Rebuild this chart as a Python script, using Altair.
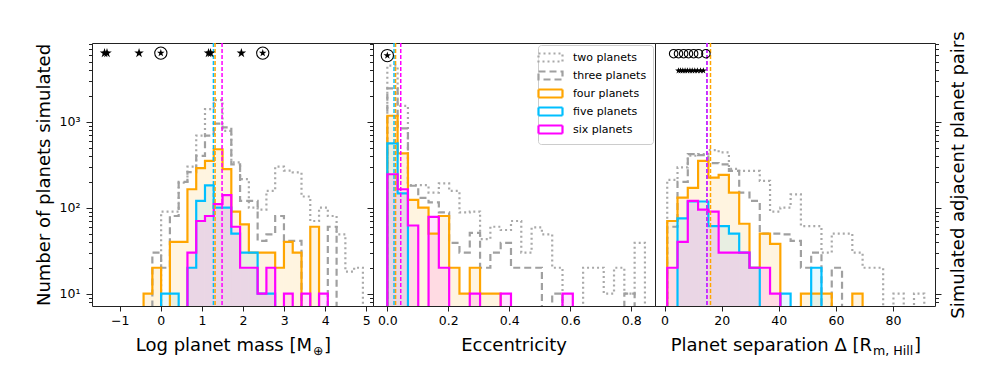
import altair as alt
import pandas as pd

FONT = "DejaVu Sans"

# ---------------- series definitions ----------------
SERIES = ["two planets", "three planets", "four planets", "five planets", "six planets"]
SERIES_COLORS = ["#a9a9a9", "#a0a0a0", "#ffa500", "#00bfff", "#ff00ff"]
SERIES_DASHES = [[2, 3], [7, 4], [1, 0], [1, 0], [1, 0]]
SERIES_WIDTHS = [2.2, 2.2, 3.2, 3.2, 3.2]
HATCH_OPACITY = {"four planets": 0.12, "five planets": 0.09, "six planets": 0.1}

# ---------------- panel 1: log planet mass ----------------
MASS_BIN_START = -0.42
MASS_BIN_WIDTH = 0.2135
mass_two = [0, 0, 90, 90, 195, 300, 690, 1400, 1790, 785, 337, 215, 100, 95, 157,
            300, 270, 257, 135, 70, 100, 80, 49, 18, 20]
mass_three = [0, 30, 20, 80, 200, 260, 400, 690, 950, 860, 320, 120, 120, 41, 49,
              80, 41, 41, 0, 0, 0, 60]
mass_four = [10, 20, 0, 40, 40, 164, 288, 351, 479, 281, 90, 64, 30, 30, 30, 20,
             40, 30, 0, 60]
mass_five = [0, 0, 10, 10, 0, 20, 120, 182, 100, 100, 50, 30, 30, 10, 10]
mass_six = [0, 0, 0, 0, 0, 30, 70, 80, 110, 140, 60, 20, 20, 10, 20, 0, 10, 0, 10,
            0, 10]
mass_medians = [("five planets", 1.28), ("four planets", 1.32), ("six planets", 1.49)]
mass_star_x = [-1.37, -1.31, -0.53, 1.16, 1.21, 1.96]
mass_circled_x = [0.0, 2.48]
MASS_MARK_Y = 6300
mass_ticks = [-1, 0, 1, 2, 3, 4, 5]

# ---------------- panel 2: eccentricity ----------------
ECC_BIN_START = 0.0
ECC_BIN_WIDTH = 0.0338
ecc_two = [4500, 1535, 183, 183, 150, 192, 157, 88, 90, 43, 60, 55, 70, 30, 59, 49,
           20, 0, 0, 20, 20, 10, 20, 10, 39]
ecc_three = [2450, 840, 180, 130, 115, 88, 39, 30, 51, 20, 30, 39, 20, 20, 20, 0,
             10, 0, 0, 0, 0, 0, 0, 10]
ecc_four = [1175, 428, 123, 100, 50, 80, 20, 10, 20, 10, 10]
ecc_five = [560, 147]
ecc_six = [245, 164, 62, 0, 78, 20, 0, 0, 10, 0, 0, 10, 0, 0, 0, 0, 0, 10]
ecc_medians = [("five planets", 0.022), ("four planets", 0.027), ("six planets", 0.044)]
ecc_circled_x = [0.0]
ECC_MARK_Y = 5900
ecc_ticks = [0.0, 0.2, 0.4, 0.6, 0.8]

# ---------------- panel 3: planet separation ----------------
SEP_BIN_START = 0.95
SEP_BIN_WIDTH = 3.6
sep_two = [211, 294, 402, 420, 467, 440, 283, 268, 268, 205, 90, 100, 143, 61, 61,
           30, 50, 50, 30, 20, 20, 0, 10, 0, 10]
sep_three = [60, 200, 420, 410, 330, 320, 268, 150, 120, 50, 50, 49, 41, 20, 30, 0, 20]
sep_four = [70, 131, 170, 351, 224, 241, 150, 65, 20, 50, 38, 0, 0, 10, 10, 10, 0, 0, 10]
sep_five = [0, 75, 118, 118, 61, 61, 50, 30, 20, 0, 0, 10, 0, 0, 20]
sep_six = [20, 40, 120, 95, 90, 30, 30, 30, 20, 20, 10]
sep_medians = [("five planets", 14.8), ("six planets", 14.9), ("four planets", 16.1)]
sep_circle_x = [3.2, 4.9, 6.7, 8.4, 10.2, 11.9, 14.5]
SEP_CIRCLE_Y = 6200
sep_star_x = [4.9, 5.6, 6.4, 7.2, 8.0, 8.9, 9.7, 10.6, 11.5, 12.6, 13.6]
SEP_STAR_Y = 3930
sep_ticks = [0, 20, 40, 60, 80]

# ---------------- axes ----------------
Y_DOMAIN = [7.17, 8260]
Y_TICKS = [8, 9, 10, 20, 30, 40, 50, 60, 70, 80, 90, 100, 200, 300, 400, 500, 600,
           700, 800, 900, 1000, 2000, 3000, 4000, 5000, 6000, 7000, 8000]
FLOOR = 2.0
PLOT_H = 263

STAR = ("M0,-1L0.2245,-0.309L0.9511,-0.309L0.3633,0.118L0.5878,0.809L0,0.382"
        "L-0.5878,0.809L-0.3633,0.118L-0.9511,-0.309L-0.2245,-0.309Z")
LEG_SYMBOL = "M-2.4,-0.8L2.4,-0.8L2.4,0.8L-2.4,0.8Z"

MAJOR_TEST = "datum.value == 10 || datum.value == 100 || datum.value == 1000"
TICK_SIZE = {"condition": {"test": MAJOR_TEST, "value": 6}, "value": 3.5}
LABEL_EXPR = ("datum.value == 10 ? '10\u00b9' : datum.value == 100 ? '10\u00b2' : "
              "datum.value == 1000 ? '10\u00b3' : ''")


def step_frame(start, width, counts, name):
    n = len(counts)
    edges = [start + width * k for k in range(n + 1)]
    rows = [{"x": edges[0], "y": FLOOR, "i": 0, "s": name}]
    for j, c in enumerate(counts):
        rows.append({"x": edges[j], "y": c if c > 0 else FLOOR, "i": j + 1, "s": name})
    rows.append({"x": edges[n], "y": FLOOR, "i": n + 1, "s": name})
    return pd.DataFrame(rows)


def bin_frame(start, width, counts):
    rows = [{"x": start + width * j, "x2": start + width * (j + 1), "y": c}
            for j, c in enumerate(counts) if c > 0]
    return pd.DataFrame(rows)


def pts(xs, yv):
    return pd.DataFrame({"x": xs, "y": [yv] * len(xs)})


def text_layer(text, x, y, size, align):
    return alt.Chart(pd.DataFrame({"t": [text]})).mark_text(
        align=align, baseline="alphabetic", fontSize=size, font=FONT, color="black"
    ).encode(text="t:N", x=alt.value(x), y=alt.value(y))


def hist_panel(counts, start, width, xdom, xticks, xfmt, wpx, yaxis, legend,
               medians, marker_fn, titles):
    xs = alt.Scale(domain=xdom, nice=False, zero=False)
    ys = alt.Scale(type="log", domain=Y_DOMAIN, nice=False)
    xa = alt.Axis(values=xticks, format=xfmt, title=None, labelFontSize=12.5,
                  labelPadding=3, tickSize=5, labelFlush=False, labelOverlap=False)
    X = alt.X("x:Q", scale=xs, axis=xa)
    Y = alt.Y("y:Q", scale=ys, axis=yaxis)
    layers = []
    for name, color in zip(SERIES, SERIES_COLORS):
        if name in HATCH_OPACITY:
            df = bin_frame(start, width, counts[name])
            layers.append(
                alt.Chart(df).mark_rect(clip=True, color=color,
                                        fillOpacity=HATCH_OPACITY[name], strokeWidth=0)
                .encode(x=X, x2="x2:Q", y=Y, y2=alt.datum(FLOOR)))
    for name in SERIES:
        df = step_frame(start, width, counts[name], name)
        layers.append(
            alt.Chart(df).mark_line(interpolate="step-after", clip=True, strokeJoin="miter",
                                    strokeCap="butt")
            .encode(
                x=X, y=Y, order="i:Q",
                stroke=alt.Stroke("s:N", scale=alt.Scale(domain=SERIES, range=SERIES_COLORS),
                                  legend=legend),
                strokeDash=alt.StrokeDash("s:N", scale=alt.Scale(domain=SERIES, range=SERIES_DASHES),
                                          legend=legend),
                strokeWidth=alt.StrokeWidth("s:N", scale=alt.Scale(domain=SERIES, range=SERIES_WIDTHS),
                                            legend=None),
            ))
    color_of = dict(zip(SERIES, SERIES_COLORS))
    for name, xv in medians:
        layers.append(alt.Chart(pd.DataFrame({"x": [xv]})).mark_rule(
            color=color_of[name], strokeDash=[4, 2], strokeWidth=1.5).encode(x=X))
    layers.extend(marker_fn(X, Y))
    for t in titles:
        layers.append(text_layer(*t))
    return alt.layer(*layers).properties(width=wpx, height=PLOT_H)


def star_layer(xs, yv, size, X, Y):
    return alt.Chart(pts(xs, yv)).mark_point(shape=STAR, size=size, filled=True,
                                             color="black", opacity=1).encode(x=X, y=Y)


def circle_layer(xs, yv, size, X, Y):
    return alt.Chart(pts(xs, yv)).mark_point(shape="circle", size=size, filled=False,
                                             color="black", strokeWidth=1.1,
                                             opacity=1).encode(x=X, y=Y)


def mass_markers(X, Y):
    return [star_layer(mass_star_x, MASS_MARK_Y, 100, X, Y),
            circle_layer(mass_circled_x, MASS_MARK_Y, 150, X, Y),
            star_layer(mass_circled_x, MASS_MARK_Y, 64, X, Y)]


def ecc_markers(X, Y):
    return [circle_layer(ecc_circled_x, ECC_MARK_Y, 150, X, Y),
            star_layer(ecc_circled_x, ECC_MARK_Y, 64, X, Y)]


def sep_markers(X, Y):
    return [circle_layer(sep_circle_x, SEP_CIRCLE_Y, 72, X, Y),
            star_layer(sep_star_x, SEP_STAR_Y, 50, X, Y)]


yaxis1 = alt.Axis(values=Y_TICKS, labelExpr=LABEL_EXPR, tickSize=TICK_SIZE,
                  labelFontSize=12.5, labelPadding=6, labelOverlap=False,
                  title="Number of planets simulated", titleFontSize=18,
                  titlePadding=6, titleFontWeight="normal")
yaxis2 = alt.Axis(values=Y_TICKS, labels=False, tickSize=TICK_SIZE, title=None)
yaxis3 = alt.Axis(values=Y_TICKS, labels=False, tickSize=TICK_SIZE, orient="right",
                  title="Simulated adjacent planet pairs", titleFontSize=18,
                  titleAngle=270, titlePadding=26, titleFontWeight="normal")

legend = alt.Legend(title=None, orient="none", legendX=165, legendY=2,
                    symbolType=LEG_SYMBOL, symbolSize=100, symbolStrokeWidth=2.5,
                    symbolFillColor="white", labelFont=FONT, labelFontSize=11,
                    labelColor="black", labelOffset=16, rowPadding=1, padding=6,
                    strokeColor="#cccccc", fillColor="white", cornerRadius=3)

p1 = hist_panel(
    {"two planets": mass_two, "three planets": mass_three, "four planets": mass_four,
     "five planets": mass_five, "six planets": mass_six},
    MASS_BIN_START, MASS_BIN_WIDTH, [-1.675, 5.163], mass_ticks, "d", 281, yaxis1, None,
    mass_medians, mass_markers,
    [("Log planet mass [M", 220, PLOT_H + 45, 18, "right"),
     ("\u2295", 221, PLOT_H + 49, 12.6, "left"),
     ("]", 232, PLOT_H + 45, 18, "left")])

p2 = hist_panel(
    {"two planets": ecc_two, "three planets": ecc_three, "four planets": ecc_four,
     "five planets": ecc_five, "six planets": ecc_six},
    ECC_BIN_START, ECC_BIN_WIDTH, [-0.047, 0.878], ecc_ticks, ".1f", 282, yaxis2, legend,
    ecc_medians, ecc_markers,
    [("Eccentricity", 141, PLOT_H + 45, 18, "center")])

p3 = hist_panel(
    {"two planets": sep_two, "three planets": sep_three, "four planets": sep_four,
     "five planets": sep_five, "six planets": sep_six},
    SEP_BIN_START, SEP_BIN_WIDTH, [-3.33, 94.7], sep_ticks, "d", 280, yaxis3, None,
    sep_medians, sep_markers,
    [("Planet separation \u0394 [R", 217, PLOT_H + 45, 18, "right"),
     ("m, Hill", 218, PLOT_H + 49, 12.6, "left"),
     ("]", 259, PLOT_H + 45, 18, "left")])

chart = (
    alt.hconcat(p1, p2, p3, spacing=0, bounds="flush")
    .resolve_scale(x="independent", y="independent", stroke="independent",
                   strokeDash="independent", strokeWidth="independent")
    .resolve_legend(stroke="independent", strokeDash="independent")
    .properties(padding={"left": 26, "top": 22, "right": 6, "bottom": 4},
                background="white")
    .configure_view(stroke="#222222", strokeWidth=1)
    .configure_axis(labelFont=FONT, titleFont=FONT, labelColor="black",
                    titleColor="black", tickColor="#222222", tickWidth=1,
                    grid=False, domain=False)
)

chart.save("out.html", embed_options={"renderer": "svg", "actions": False})
